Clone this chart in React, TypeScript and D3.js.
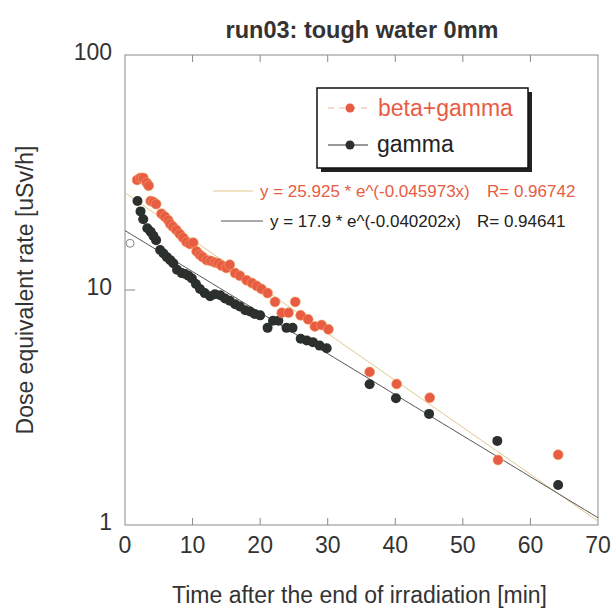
import React from "react";
import * as d3 from "d3";

// ---- data ----
const betaGammaT = [1.8, 2.3, 2.7, 3.2, 3.5, 3.8, 4.2, 4.6, 5.4, 5.9, 6.4, 6.7, 7.1, 7.6, 8.1, 8.6, 9.1, 9.6, 10.1, 10.6, 11.1, 11.5, 12.1, 12.7, 13.3, 13.8, 14.3, 15.0, 15.5, 16.3, 17.0, 18.0, 18.8, 19.5, 20.2, 21.1, 22.2, 23.2, 24.2, 25.2, 26.0, 27.1, 28.1, 29.1, 30.1, 36.2, 40.2, 45.1, 55.2, 64.1];
const betaGammaV = [29.4, 30.0, 30.0, 28.6, 27.8, 23.9, 23.7, 23.2, 21.1, 20.5, 19.8, 19.1, 18.6, 18.0, 17.3, 16.7, 16.0, 15.7, 15.9, 14.6, 14.1, 13.8, 13.4, 13.3, 13.1, 13.0, 12.7, 12.4, 12.8, 11.8, 11.5, 11.0, 10.7, 10.4, 10.1, 9.7, 8.9, 8.0, 8.0, 8.9, 7.8, 7.5, 7.0, 7.1, 6.8, 4.48, 3.98, 3.48, 1.89, 1.99];

const gammaT = [1.85, 2.3, 2.7, 3.3, 3.8, 4.2, 4.6, 5.2, 5.7, 6.2, 6.7, 7.15, 7.7, 8.4, 8.9, 9.4, 9.9, 10.5, 11.1, 11.8, 12.6, 13.3, 14.1, 14.8, 15.5, 16.3, 17.0, 17.8, 18.5, 19.2, 20.0, 21.1, 21.9, 22.7, 23.9, 24.8, 26.0, 26.9, 27.8, 28.8, 29.85, 36.2, 40.1, 45.0, 55.1, 64.1];
const gammaV = [23.9, 21.6, 20.0, 18.3, 17.7, 17.0, 16.3, 14.8, 14.3, 13.8, 13.4, 13.0, 12.2, 11.8, 11.7, 11.5, 11.2, 10.6, 10.1, 9.7, 9.4, 9.6, 9.5, 9.2, 9.0, 8.7, 8.5, 8.2, 8.1, 7.9, 7.8, 6.9, 7.4, 7.4, 6.9, 6.9, 6.2, 6.1, 6.0, 5.8, 5.65, 3.97, 3.46, 2.97, 2.28, 1.48];

// stray open marker near the axis
const strayT = [0.75];
const strayV = [15.8];

const fitBG = { a: 25.925, b: -0.045973, r: "0.96742" };
const fitG = { a: 17.9, b: -0.040202, r: "0.94641" };

const xTicks = [0, 10, 20, 30, 40, 50, 60, 70];
const yTicks = [1, 10, 100];

const title = "run03: tough water 0mm";
const xTitle = "Time after the end of irradiation [min]";
const yTitle = "Dose equivalent rate [uSv/h]";

const RED = "#e85c44";
const DARK = "#2b302c";
const FONT = "'Liberation Sans', Arial, Helvetica, sans-serif";

export default function App() {
  const W = 614, H = 608;
  const x = d3.scaleLinear().domain([0, 70]).range([125, 598]);
  const y = d3.scaleLog().domain([1, 100]).range([525, 55]);

  const fitPts = (f: { a: number; b: number }) =>
    d3.range(0, 70.01, 1).map((t) => [t, f.a * Math.exp(f.b * t)] as [number, number]);
  const line = d3
    .line<[number, number]>()
    .x((d) => x(d[0]))
    .y((d) => y(Math.max(d[1], 1)));

  const bg = betaGammaT.map((t, i) => [t, betaGammaV[i]]);
  const g = gammaT.map((t, i) => [t, gammaV[i]]);

  const [x0, x1] = x.range();
  const [yb, yt] = y.range();

  return (
    <svg width={W} height={H} style={{ position: "absolute", left: 0, top: 0, background: "#fff" }} fontFamily={FONT}>
      <rect x={0} y={0} width={W} height={H} fill="#fff" />
      {/* title */}
      <text x={362} y={38} textAnchor="middle" fontSize={23.5} fontWeight="bold" fill="#333">
        {title}
      </text>

      {/* frame */}
      <rect x={x0} y={yt} width={x1 - x0} height={yb - yt} fill="none" stroke="#8a8a8a" strokeWidth={1} />

      {/* x ticks */}
      {xTicks.map((t) => (
        <g key={"xt" + t}>
          {t > 0 && t < 70 && (
            <>
              <line x1={x(t)} x2={x(t)} y1={yb} y2={yb - 7} stroke="#8a8a8a" />
              <line x1={x(t)} x2={x(t)} y1={yt} y2={yt + 7} stroke="#8a8a8a" />
            </>
          )}
          <text x={x(t)} y={553} textAnchor="middle" fontSize={23} fill="#333">
            {t}
          </text>
        </g>
      ))}

      {/* y ticks */}
      {yTicks.map((v) => (
        <g key={"yt" + v}>
          {v > 1 && v < 100 && (
            <line x1={x0} x2={x0 + 10} y1={y(v)} y2={y(v)} stroke="#8a8a8a" />
          )}
          <text x={112} y={y(v) + 5} textAnchor="end" fontSize={23} fill="#333">
            {v}
          </text>
        </g>
      ))}

      {/* axis titles */}
      <text x={x(35) - 2} y={603} textAnchor="middle" fontSize={23} fill="#333">
        {xTitle}
      </text>
      <text
        transform={`translate(33, ${290}) rotate(-90)`}
        textAnchor="middle"
        fontSize={23}
        fill="#333"
      >
        {yTitle}
      </text>

      {/* fit lines */}
      <path d={line(fitPts(fitBG)) || ""} fill="none" stroke="#e2c98c" strokeWidth={1} />
      <path d={line(fitPts(fitG)) || ""} fill="none" stroke="#555" strokeWidth={1} />

      {/* stray open marker */}
      {strayT.map((t, i) => (
        <circle key={"s" + i} cx={x(t)} cy={y(strayV[i])} r={4} fill="none" stroke="#888" strokeWidth={1} />
      ))}

      {/* points */}
      {g.map((d, i) => (
        <circle key={"g" + i} cx={x(d[0])} cy={y(d[1])} r={5} fill={DARK} />
      ))}
      {bg.map((d, i) => (
        <circle key={"b" + i} cx={x(d[0])} cy={y(d[1])} r={5} fill={RED} stroke="#f0a060" strokeWidth={0.6} />
      ))}

      {/* legend box */}
      <rect x={321} y={92} width={211} height={80} fill="#222" />
      <rect x={317} y={88} width={211} height={80} fill="#fff" stroke="#111" strokeWidth={1.5} />
      <line x1={328} x2={368} y1={108} y2={108} stroke="#f2b5a5" strokeWidth={1} strokeDasharray="6,5" />
      <circle cx={350} cy={108} r={4.5} fill={RED} />
      <text x={378} y={116} fontSize={23} fill={RED}>
        beta+gamma
      </text>
      <line x1={328} x2={368} y1={145} y2={145} stroke="#333" strokeWidth={1} />
      <circle cx={350} cy={145} r={4.5} fill={DARK} />
      <text x={377} y={152} fontSize={23} fill="#222">
        gamma
      </text>

      {/* equations */}
      <line x1={213} x2={253} y1={191} y2={191} stroke="#e2c98c" strokeWidth={1} />
      <text x={260} y={197} fontSize={17} fill={RED}>
        {`y = ${fitBG.a} * e^(${fitBG.b}x)`}
      </text>
      <text x={487} y={197} fontSize={17} fill={RED}>
        {`R= ${fitBG.r}`}
      </text>
      <line x1={221} x2={263} y1={221} y2={221} stroke="#555" strokeWidth={1} />
      <text x={270} y={227} fontSize={17} fill="#222">
        {`y = ${fitG.a} * e^(${fitG.b}x)`}
      </text>
      <text x={477} y={227} fontSize={17} fill="#222">
        {`R= ${fitG.r}`}
      </text>
    </svg>
  );
}
